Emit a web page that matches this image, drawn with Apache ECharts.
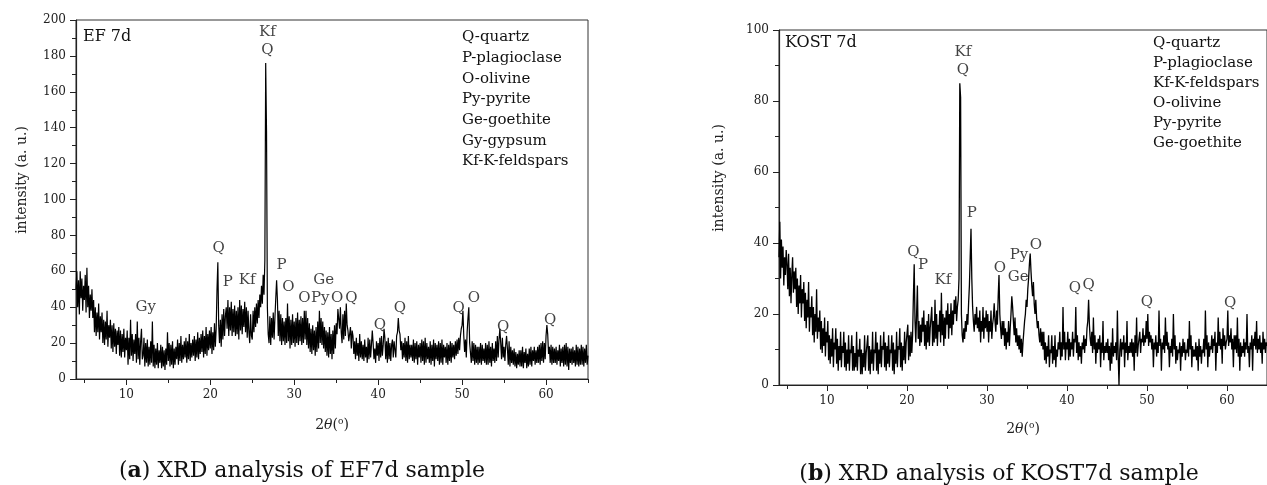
<!DOCTYPE html>
<html>
<head>
<meta charset="utf-8">
<script src="https://cdn.jsdelivr.net/npm/echarts@6/dist/echarts.min.js"></script>
<style>
html,body{margin:0;padding:0;background:#fff;}
#chart{width:1267px;height:485px;}
</style>
</head>
<body>
<div id="chart"></div>
<script>
// ---- sampling grid (2θ, degrees) ----
const thetaStart = 4.0;
const thetaStep = 0.1;

// ---- EF 7d intensities, one row per degree starting at 4° ----
const efIntensity = [
50,60,40,55,36,60,45,56,38,52,
44,58,37,62,40,52,34,47,38,50,
34,44,26,40,24,37,26,42,22,35,
26,37,20,33,19,32,22,38,18,30,
23,33,17,30,15,31,18,28,14,27,
19,29,13,27,12,25,15,28,12,23,
16,27,8,23,11,33,13,25,10,22,
14,25,9,32,11,23,8,21,28,11,
13,23,7,20,9,22,7,18,8,21,
9,32,7,19,6,17,8,20,6,16,
9,19,6,18,7,16,5,17,8,26,
10,20,7,19,8,21,6,17,8,18,
11,22,8,20,10,24,9,19,11,21,
12,23,9,21,11,25,10,20,12,22,
13,24,10,22,12,26,11,23,14,25,
15,27,12,24,14,29,13,25,16,27,
17,29,14,26,16,31,18,28,50,65,
30,20,33,18,36,22,39,24,35,40,
28,44,24,40,27,43,24,39,26,41,
24,38,25,40,22,44,27,41,25,39,
29,43,26,40,23,38,26,20,36,24,
22,38,26,40,29,42,31,44,34,47,
40,52,42,58,47,66,176,138,40,25,
20,35,19,34,23,37,22,34,45,55,
44,24,38,21,36,19,34,21,32,19,
34,20,42,21,35,17,33,19,36,20,
32,18,34,20,37,19,33,21,35,19,
34,20,38,22,38,19,34,17,31,15,
28,14,30,16,27,13,29,15,32,17,
38,20,34,19,32,17,29,15,27,13,
26,12,29,14,25,11,27,14,30,17,
31,25,39,40,28,40,26,20,36,22,
38,24,42,30,27,21,22,29,17,27,
24,14,21,11,23,13,20,10,25,12,
21,11,19,10,22,12,18,9,23,11,
22,12,19,27,20,11,17,9,21,13,
20,10,23,12,24,13,19,28,23,11,
21,9,23,11,20,10,19,22,12,21,
22,12,24,26,34,27,25,16,21,11,
20,12,23,10,21,9,24,11,19,12,
19,10,22,9,20,11,21,8,19,12,
20,9,22,10,21,8,23,9,20,11,
18,9,21,8,19,10,22,7,20,11,
19,10,21,8,20,9,22,8,19,12,
18,9,20,8,19,10,21,9,20,12,
19,11,21,13,22,14,23,16,24,28,
30,38,24,15,22,12,26,34,40,20,
19,9,21,10,20,8,19,9,18,8,
18,9,20,8,19,10,17,9,20,8,
19,8,21,9,18,7,20,10,17,9,
21,10,24,12,22,28,20,11,23,12,
18,10,19,24,17,8,21,7,18,9,
16,8,17,7,15,6,14,8,16,7,
16,7,18,6,15,9,17,6,14,7,
17,8,18,7,16,10,18,8,16,9,
18,9,19,8,20,10,21,9,20,11,
24,30,25,14,18,9,19,8,18,9,
17,9,18,8,16,10,19,7,17,9,
18,7,19,8,20,7,18,5,17,9,
17,8,18,9,16,7,19,8,18,7,
17,8,19,8,18,7,17,9,19,8,
13
];

// ---- KOST 7d intensities, one row per degree starting at 4° ----
const kostIntensity = [
36,46,30,41,33,39,28,36,31,38,
34,27,37,25,33,23,31,36,26,32,
27,33,22,30,20,28,23,31,19,27,
23,29,18,26,16,24,19,29,15,22,
19,25,14,22,12,20,15,27,13,19,
15,21,10,18,9,16,11,19,8,15,
12,18,7,14,6,13,8,16,5,12,
10,16,6,13,4,11,7,15,5,11,
9,15,5,12,4,10,6,14,4,10,
9,14,4,11,4,9,5,15,4,10,
8,13,3,10,3,9,5,14,4,9,
9,14,4,11,3,10,6,15,4,10,
9,15,4,12,3,10,6,14,5,11,
10,15,5,12,4,11,6,14,5,10,
9,14,4,12,3,10,6,15,5,11,
10,16,5,12,4,11,7,15,6,12,
12,17,7,14,8,15,9,14,25,34,
18,12,20,28,13,18,11,17,12,19,
15,21,11,17,10,18,12,20,11,16,
16,22,11,18,12,24,13,20,11,17,
15,21,12,26,14,20,11,19,13,21,
17,23,13,20,16,23,14,21,17,24,
20,25,18,22,24,30,85,81,20,14,
12,16,13,18,15,20,17,23,28,36,
44,30,22,18,15,20,17,22,16,19,
15,21,12,18,15,22,13,19,16,21,
15,20,12,18,15,21,13,17,19,23,
18,15,21,17,25,31,20,16,13,18,
14,18,11,16,10,15,12,18,11,16,
20,25,22,18,14,19,12,16,11,14,
10,14,9,13,8,12,15,18,20,24,
22,27,30,34,37,32,28,25,29,23,
20,24,19,16,18,14,12,16,11,15,
10,15,7,12,6,11,8,14,5,10,
9,14,6,11,7,14,5,10,8,12,
10,15,7,12,8,22,10,15,7,12,
10,15,7,13,8,12,10,15,8,13,
12,22,9,14,7,12,8,11,6,12,
10,14,9,13,11,16,18,24,17,13,
11,15,9,19,10,14,6,12,9,13,
10,14,5,12,9,18,7,11,9,12,
9,13,7,11,4,12,6,16,8,11,
9,12,7,21,8,0,10,13,8,12,
10,14,5,12,9,18,7,11,9,12,
9,13,8,12,4,14,9,19,8,11,
11,15,9,13,12,16,11,14,12,18,
13,20,11,15,12,14,10,13,5,12,
10,14,8,12,9,21,11,13,4,12,
10,14,9,19,11,15,10,12,5,11,
9,13,8,20,10,14,6,11,7,10,
9,12,4,11,8,13,9,12,7,10,
9,13,8,18,10,14,5,11,8,10,
8,12,7,11,4,13,8,11,6,10,
9,13,8,21,10,14,5,12,8,11,
10,14,9,13,11,15,4,12,9,19,
11,15,10,13,6,16,11,14,10,12,
13,21,11,14,12,16,10,13,5,14,
10,14,9,19,8,13,4,12,8,11,
9,13,8,12,10,20,9,11,5,12,
10,14,4,13,11,15,10,18,9,13,
10,14,9,12,6,15,10,13,9,12,
11
];

// ---- peak annotations [2θ, intensity, label] ----
const efPeakLabels = [
  [26.8,193,'Kf'],[26.8,183,'Q'],[12.3,40,'Gy'],[21.0,73,'Q'],
  [22.1,54,'P'],[24.4,55,'Kf'],[28.5,63.5,'P'],[29.3,51,'O'],
  [33.5,55,'Ge'],[31.2,45,'O'],[33.1,45,'Py'],[35.1,45,'O'],[36.8,45,'Q'],
  [40.2,30,'Q'],[42.6,39.5,'Q'],[49.6,39.5,'Q'],[51.4,45,'O'],
  [54.9,29,'Q'],[60.5,33,'Q']
];
const kostPeakLabels = [
  [27.0,93.8,'Kf'],[27.0,88.7,'Q'],[28.1,48.4,'P'],[20.8,37.5,'Q'],
  [22.0,33.8,'P'],[24.5,29.6,'Kf'],[31.6,33,'O'],[33.9,30.4,'Ge'],
  [34.0,36.6,'Py'],[36.1,39.4,'O'],[41.0,27.3,'Q'],[42.7,28.2,'Q'],
  [50.0,23.4,'Q'],[60.4,23.1,'Q']
];

// ---- ticks and texts ----
const xMajorTicks = [10,20,30,40,50,60];
const xMinorTicks = [5,15,25,35,45,55,65];
const efLegendLines = ['Q-quartz','P-plagioclase','O-olivine','Py-pyrite','Ge-goethite','Gy-gypsum','Kf-K-feldspars'];
const kostLegendLines = ['Q-quartz','P-plagioclase','Kf-K-feldspars','O-olivine','Py-pyrite','Ge-goethite'];
const panelTitles = ['EF 7d','KOST 7d'];
const captions = [['a',' XRD analysis of EF7d sample'],['b',' XRD analysis of KOST7d sample']];
const yAxisTitle = 'intensity (a. u.)';

const FONT = 'DejaVu Serif';
const toPairs = arr => arr.map((v,i)=>[+(thetaStart + i*thetaStep).toFixed(2), v]);

function xAxes(gi){
  const common = {gridIndex:gi, type:'value', min:4, max:65, position:'bottom',
    splitLine:{show:false}};
  return [
    Object.assign({}, common, {
      axisLine:{lineStyle:{color:'#222', width:1.2}},
      axisTick:{customValues:xMajorTicks, length:6, lineStyle:{color:'#222'}},
      axisLabel:{customValues:xMajorTicks, fontFamily:FONT, fontSize:12, color:'#222', margin:10},
      name:'{n|2}{t|θ}{n|(}{s|o}{n|)}', nameLocation:'middle', nameGap:gi===0?38:36,
      nameTextStyle:{rich:{
        n:{fontFamily:FONT, fontSize:14, color:'#222'},
        t:{fontFamily:FONT, fontSize:14, fontStyle:'italic', color:'#222'},
        s:{fontFamily:FONT, fontSize:9, color:'#222', verticalAlign:'top', padding:[0,0,8,0]}
      }}
    }),
    Object.assign({}, common, {
      axisLine:{show:false},
      axisTick:{customValues:xMinorTicks, length:4, lineStyle:{color:'#222'}},
      axisLabel:{show:false}
    })
  ];
}
function yAxis(gi, max){
  return {gridIndex:gi, type:'value', min:0, max:max, interval:20,
    splitLine:{show:false},
    axisLine:{show:true, lineStyle:{color:'#222', width:1.2}},
    axisTick:{show:true, length:6, lineStyle:{color:'#222'}},
    minorTick:{show:true, splitNumber:2, length:4, lineStyle:{color:'#222'}},
    axisLabel:{fontFamily:FONT, fontSize:12, color:'#222', margin:10}
  };
}
function labelSeries(data, xi, yi){
  return {type:'scatter', xAxisIndex:xi, yAxisIndex:yi, data:data,
    symbolSize:1, itemStyle:{color:'rgba(0,0,0,0)'}, silent:true, z:5,
    label:{show:true, position:'inside', formatter:p=>p.value[2],
      fontFamily:FONT, fontSize:15, color:'#111'}};
}

const chart = echarts.init(document.getElementById('chart'), null, {renderer:'canvas'});
chart.setOption({
  animation:false,
  backgroundColor:'#fff',
  grid:[
    {left:76, top:20, width:512, height:359, show:true, borderColor:'#333', borderWidth:1, backgroundColor:'transparent'},
    {left:779, top:30, width:498, height:355, show:true, borderColor:'#333', borderWidth:1, backgroundColor:'transparent'}
  ],
  xAxis:[...xAxes(0), ...xAxes(1)],
  yAxis:[yAxis(0,200), yAxis(1,100)],
  series:[
    {type:'line', xAxisIndex:0, yAxisIndex:0, data:toPairs(efIntensity), showSymbol:false,
      lineStyle:{color:'#000', width:1.2}, silent:true},
    {type:'line', xAxisIndex:2, yAxisIndex:1, data:toPairs(kostIntensity), showSymbol:false,
      lineStyle:{color:'#000', width:1.3}, silent:true},
    labelSeries(efPeakLabels,0,0),
    labelSeries(kostPeakLabels,2,1)
  ],
  graphic:[
    {type:'text', x:22, y:180, rotation:Math.PI/2, style:{text:yAxisTitle, font:'14px "DejaVu Serif"', fill:'#222', align:'center', verticalAlign:'middle'}},
    {type:'text', x:719, y:178, rotation:Math.PI/2, style:{text:yAxisTitle, font:'14px "DejaVu Serif"', fill:'#222', align:'center', verticalAlign:'middle'}},
    {type:'text', x:83, y:37, style:{text:panelTitles[0], font:'16px "DejaVu Serif"', fill:'#111', verticalAlign:'middle'}},
    {type:'text', x:785, y:43, style:{text:panelTitles[1], font:'16px "DejaVu Serif"', fill:'#111', verticalAlign:'middle'}},
    {type:'text', x:462, y:27, style:{text:efLegendLines.join('\n'), font:'15px "DejaVu Serif"', lineHeight:20.7, fill:'#111', verticalAlign:'top'}},
    {type:'text', x:1153, y:33, style:{text:kostLegendLines.join('\n'), font:'15px "DejaVu Serif"', lineHeight:20, fill:'#111', verticalAlign:'top'}},
    {type:'text', x:302, y:471, style:{text:'(' + '{b|' + captions[0][0] + '}' + ')' + captions[0][1], rich:{b:{fontWeight:'bold', fontFamily:FONT, fontSize:22, fill:'#111'}}, font:'22px "DejaVu Serif"', fill:'#111', align:'center', verticalAlign:'middle'}},
    {type:'text', x:999, y:474, style:{text:'(' + '{b|' + captions[1][0] + '}' + ')' + captions[1][1], rich:{b:{fontWeight:'bold', fontFamily:FONT, fontSize:22, fill:'#111'}}, font:'22px "DejaVu Serif"', fill:'#111', align:'center', verticalAlign:'middle'}}
  ]
});
</script>
</body>
</html>
